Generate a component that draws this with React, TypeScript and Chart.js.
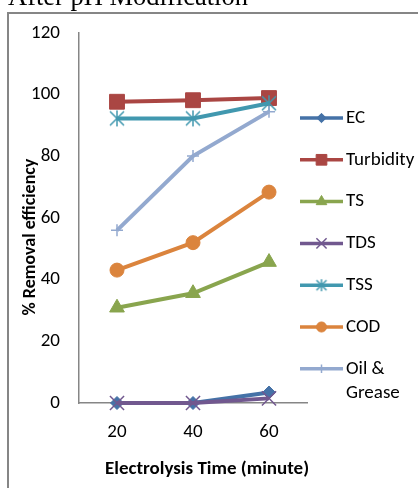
import React, { useEffect, useRef } from 'react';
import { Chart, registerables } from 'chart.js';
import { drawPoint } from 'chart.js/helpers';

Chart.register(...registerables);

const categories = ['20', '40', '60'];
const ecValues = [0, 0, 3.4];
const turbidityValues = [97.7, 98.2, 98.9];
const tsValues = [30.9, 35.6, 45.7];
const tdsValues = [0, 0, 1.5];
const tssValues = [92.3, 92.3, 97.2];
const codValues = [43.1, 52.0, 68.4];
const oilValues = [56.0, 80.1, 94.5];
const seriesNames = ['EC', 'Turbidity', 'TS', 'TDS', 'TSS', 'COD', 'Oil & Grease'];
const legendLines = [['EC'], ['Turbidity'], ['TS'], ['TDS'], ['TSS'], ['COD'], ['Oil &', 'Grease']];
const colors = ['#4572A7', '#AA4643', '#89A54E', '#71588F', '#4198AF', '#DB843D', '#93A9CF'];

const SANS = 'Carlito, Lato, sans-serif';
const SERIF = '"Liberation Serif", "Times New Roman", serif';

function makeAsterisk(color: string, half: number): HTMLCanvasElement {
  const c = document.createElement('canvas');
  const s = Math.ceil(half * 2 + 4);
  c.width = s;
  c.height = s;
  const g = c.getContext('2d')!;
  const m = s / 2;
  g.strokeStyle = color;
  g.lineWidth = 1.5;
  g.beginPath();
  g.moveTo(m - half, m - half);
  g.lineTo(m + half, m + half);
  g.moveTo(m + half, m - half);
  g.lineTo(m - half, m + half);
  g.moveTo(m, m - half - 1);
  g.lineTo(m, m + half + 1);
  g.stroke();
  return c;
}

const decorPlugin = {
  id: 'decor',
  beforeDraw(chart: any) {
    const ctx = chart.ctx;
    ctx.save();
    ctx.fillStyle = '#ffffff';
    ctx.fillRect(0, 0, chart.width, chart.height);
    ctx.strokeStyle = '#868686';
    ctx.lineWidth = 2;
    ctx.beginPath();
    ctx.moveTo(8, chart.height + 2);
    ctx.lineTo(8, 13);
    ctx.lineTo(chart.width + 2, 13);
    ctx.stroke();
    ctx.restore();
  },
  afterDraw(chart: any) {
    const ctx = chart.ctx;
    ctx.save();
    // cropped title
    ctx.fillStyle = '#000';
    ctx.font = `26.5px ${SERIF}`;
    ctx.textAlign = 'left';
    ctx.textBaseline = 'alphabetic';
    ctx.fillText('After pH Modification', 8, 5);

    // axis titles
    ctx.font = `bold 19px ${SANS}`;
    ctx.textAlign = 'center';
    ctx.textBaseline = 'middle';
    ctx.fillText('Electrolysis Time (minute)', 207, 469);
    ctx.font = `bold 18px ${SANS}`;
    ctx.save();
    ctx.translate(30, 237);
    ctx.rotate(-Math.PI / 2);
    ctx.fillText('% Removal efficiency', 0, 0);
    ctx.restore();

    // legend
    const datasets = chart.data.datasets;
    for (let i = 0; i < datasets.length; i++) {
      const ds = datasets[i];
      const y = 118 + i * 41.8;
      ctx.strokeStyle = ds.borderColor;
      ctx.lineWidth = 3.5;
      ctx.lineCap = 'butt';
      ctx.beginPath();
      ctx.moveTo(300, y);
      ctx.lineTo(343, y);
      ctx.stroke();
      ctx.fillStyle = ds.pointBackgroundColor;
      ctx.strokeStyle = ds.pointBorderColor;
      ctx.lineWidth = ds.pointBorderWidth;
      drawPoint(ctx, {
        pointStyle: ds.legendPointStyle || ds.pointStyle,
        rotation: 0,
        radius: ds.pointRadius * 0.72,
        borderWidth: ds.pointBorderWidth,
      } as any, 321.5, y);
      ctx.fillStyle = '#000';
      ctx.font = `19px ${SANS}`;
      ctx.textAlign = 'left';
      ctx.textBaseline = 'middle';
      const lines = legendLines[i];
      lines.forEach((t, k) => ctx.fillText(t, 346, y + k * 24));
    }
    ctx.restore();
  },
};

export default function App() {
  const ref = useRef<HTMLCanvasElement>(null);
  useEffect(() => {
    if (!ref.current) return;
    const allValues = [ecValues, turbidityValues, tsValues, tdsValues, tssValues, codValues, oilValues];
    const styles: any[] = ['rectRot', 'rect', 'triangle', 'crossRot', makeAsterisk(colors[4], 7), 'circle', 'cross'];
    const radii = [6.5, 10.5, 8.5, 10, 8, 7, 6];
    const borderW = [1, 1, 1, 1.5, 1.5, 1, 1.5];
    const datasets = allValues.map((vals, i) => ({
      label: seriesNames[i],
      data: vals,
      borderColor: colors[i],
      backgroundColor: colors[i],
      borderWidth: 4,
      pointStyle: styles[i],
      legendPointStyle: i === 4 ? makeAsterisk(colors[4], 5) : styles[i],
      pointRadius: radii[i],
      pointHoverRadius: radii[i],
      pointBackgroundColor: colors[i],
      pointBorderColor: colors[i],
      pointBorderWidth: borderW[i],
      tension: 0,
      order: 6 - i,
      clip: false as any,
    }));
    const chart = new Chart(ref.current, {
      type: 'line',
      data: { labels: categories, datasets: datasets as any },
      options: {
        responsive: false,
        animation: false,
        devicePixelRatio: 1,
        events: [],
        layout: { padding: { top: 33, right: 111, left: 0, bottom: 0 } },
        plugins: { legend: { display: false }, tooltip: { enabled: false }, title: { display: false } },
        scales: {
          x: {
            type: 'category',
            offset: true,
            grid: { display: false, drawTicks: false },
            border: { display: true, color: '#868686', width: 1.5 },
            ticks: { font: { family: SANS, size: 19 }, color: '#000', padding: 18 },
            afterFit: (s: any) => { s.height = 85; },
          },
          y: {
            min: 0,
            max: 120,
            grid: { display: false, drawTicks: false },
            border: { display: true, color: '#868686', width: 1.5 },
            ticks: { stepSize: 20, font: { family: SANS, size: 19 }, color: '#000', padding: 19 },
            afterFit: (s: any) => { s.width = 79; },
          },
        },
      },
      plugins: [decorPlugin],
    });
    return () => chart.destroy();
  }, []);
  return (
    <div style={{ position: 'fixed', left: 0, top: 0, width: 418, height: 488, overflow: 'hidden', background: '#fff' }}>
      <canvas ref={ref} width={418} height={488} style={{ display: 'block', width: 418, height: 488 }} />
    </div>
  );
}
